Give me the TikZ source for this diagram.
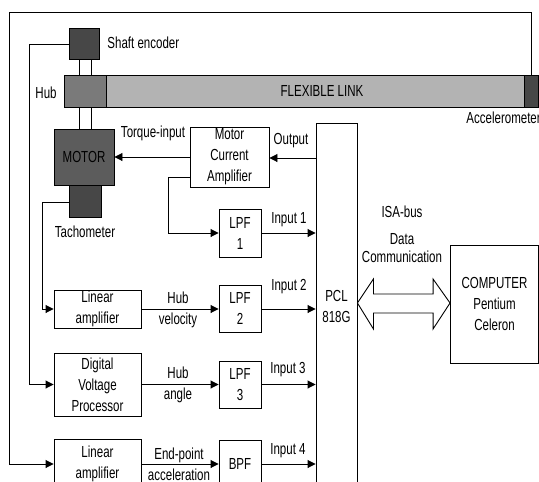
\documentclass[tikz,border=0pt]{standalone}
\usepackage{fontspec}
\setmainfont{Liberation Sans}[FakeStretch=0.72]
\usetikzlibrary{arrows.meta,calc}
\definecolor{encgray}{HTML}{474747}
\definecolor{motgray}{HTML}{5C5C5C}
\definecolor{hubgray}{HTML}{7A7A7A}
\definecolor{linkgray}{HTML}{B3B3B3}
\begin{document}
\begin{tikzpicture}[x=1pt,y=-1pt,line width=0.9pt,
  font=\fontsize{16}{21}\selectfont,
  box/.style={draw,inner sep=0pt,align=center,rectangle},
  lbl/.style={inner sep=0pt,align=center},
  arr/.style={-{Triangle[length=8pt,width=8pt]}}]
\clip (0,0) rectangle (539,482);
% mechanical parts
\node[box,fill=encgray,minimum width=30pt,minimum height=31pt] (shaft) at (84,43.5) {};
\node[box,fill=hubgray,minimum width=42pt,minimum height=32pt] (hub) at (85,91) {};
\node[box,fill=linkgray,minimum width=418pt,minimum height=32pt] (link) at (315,91) {};
\node[box,fill=encgray,minimum width=14pt,minimum height=32pt] (acc) at (531,91) {};
\node[box,fill=motgray,minimum width=60pt,minimum height=56pt] (motor) at (84,157) {MOTOR};
\node[box,fill=encgray,minimum width=32pt,minimum height=32pt] (tacho) at (85,201) {};
% electronics
\node[box,minimum width=79pt,minimum height=60pt] (mca) at (229.5,157) {Motor\\Current\\Amplifier};
\node[box,minimum width=42pt,minimum height=48pt] (lpf1) at (240,233) {LPF\\1};
\node[box,minimum width=41pt,minimum height=367pt] (pcl) at (336.5,306.5) {PCL\\818G};
\node[box,minimum width=87pt,minimum height=38pt] (la1) at (97.5,309) {Linear\\amplifier};
\node[box,minimum width=42pt,minimum height=47pt] (lpf2) at (240,308.5) {LPF\\2};
\node[box,minimum width=87pt,minimum height=63pt] (dvp) at (97.5,384.5) {Digital\\Voltage\\Processor};
\node[box,minimum width=42pt,minimum height=47pt] (lpf3) at (240,384.5) {LPF\\3};
\node[box,minimum width=87pt,minimum height=50pt] (la2) at (97.5,464) {Linear\\amplifier};
\node[box,minimum width=42pt,minimum height=48pt] (bpf) at (240,464) {BPF};
\node[box,minimum width=88pt,minimum height=118pt] (comp) at (494.5,304) {COMPUTER\\Pentium\\Celeron};
% labels
\node[lbl,anchor=west] (tshaft) at (107,43) {Shaft encoder};
\node[lbl] (thub) at (46,93) {Hub};
\node[lbl] (tlink) at (322,91) {FLEXIBLE LINK};
\node[lbl,anchor=west] (tacc) at (466,118) {Accelerometer};
\node[lbl] (ttorque) at (153,133) {Torque-input};
\node[lbl] (ttacho) at (85,232) {Tachometer};
\node[lbl] (tout) at (291,141) {Output};
\node[lbl] (tin1) at (289,220) {Input 1};
\node[lbl] (tin2) at (289,287) {Input 2};
\node[lbl] (tin3) at (288,370) {Input 3};
\node[lbl] (tin4) at (288,451) {Input 4};
\node[lbl] (thv) at (178,310) {Hub\\velocity};
\node[lbl] (tha) at (178,385) {Hub\\angle};
\node[lbl] (tep) at (179,464.5) {End-point\\acceleration};
\node[lbl] (tisa) at (402,212) {ISA-bus};
\node[lbl] (tdata) at (402,239) {Data};
\node[lbl] (tcomm) at (402,257) {Communication};
% shafts
\draw (79,59) -- (79,75) (91,59) -- (91,75);
\draw (79,107) -- (79,129) (91,107) -- (91,129);
% feedback wires
\coordinate (ftop) at (531,12);
\coordinate (fl) at (9.5,12);
\draw[arr] (acc.north) -- (ftop) -- (fl) |- (la2.west);
\coordinate (sl) at (29,44);
\draw[arr] (shaft.west |- sl) -- (sl) |- (dvp.west);
\coordinate (tl) at (42,202);
\draw[arr] (tacho.west |- tl) -- (tl) |- (la1.west);
% motor drive
\draw[arr] (mca.west |- motor.east) -- (motor.east);
\coordinate (po) at (316,158);
\draw[arr] (po) -- (mca.east |- po);
\coordinate (ml) at (168,177);
\draw[arr] (mca.west |- ml) -- (ml) |- (lpf1.west);
% signal chains
\draw[arr] (lpf1.east) -- (pcl.west |- lpf1.east);
\draw[arr] (la1.east) -- (lpf2.west |- la1.east);
\draw[arr] (lpf2.east |- la1.east) -- (pcl.west |- la1.east);
\draw[arr] (dvp.east) -- (lpf3.west |- dvp.east);
\draw[arr] (lpf3.east |- dvp.east) -- (pcl.west |- dvp.east);
\draw[arr] (la2.east) -- (bpf.west);
\draw[arr] (bpf.east) -- (pcl.west |- bpf.east);
% bus double arrow
\coordinate (L) at (pcl.east |- 0,303);
\coordinate (R) at (comp.west |- 0,303);
\draw[fill=white] (L) -- ($(L)+(16,-24)$) -- ($(L)+(16,-9)$) -- ($(R)+(-17,-9)$) -- ($(R)+(-17,-24)$) -- (R)
  -- ($(R)+(-17,26)$) -- ($(R)+(-17,10)$) -- ($(L)+(16,10)$) -- ($(L)+(16,26)$) -- cycle;
\end{tikzpicture}
\end{document}
